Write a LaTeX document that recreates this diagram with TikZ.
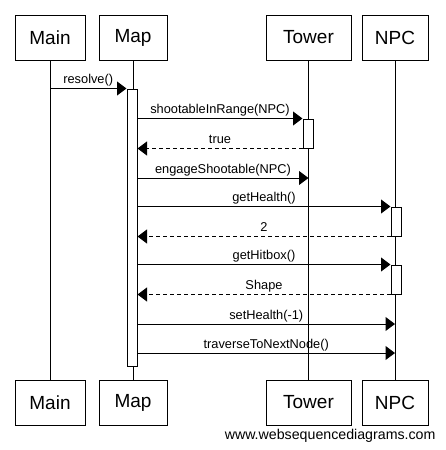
\documentclass[tikz,border=0pt]{standalone}
\usepackage{fontspec}
\setmainfont{Liberation Sans}
\usetikzlibrary{arrows.meta}
\begin{document}
\begin{tikzpicture}[x=1pt,y=-1pt,line width=1pt,
  actor/.style={draw,fill=white,minimum height=45pt,inner sep=0pt,font=\fontsize{19}{22}\selectfont},
  act/.style={draw,fill=white,minimum width=10pt,inner sep=0pt},
  life/.style={line width=1pt},
  msg/.style={-{Triangle[length=9.5pt,width=14pt]}},
  ret/.style={msg,dash pattern=on 4pt off 3pt},
  lbl/.style={anchor=base,yshift=5pt,inner sep=0pt,font=\fontsize{12.8}{15}\selectfont}]
\useasboundingbox (0,0) rectangle (446,450);
\fill[white] (0,0) rectangle (446,450);
% top actors
\node[actor,minimum width=70pt] (mainT) at (50,37.5) {Main};
\node[actor,minimum width=68pt] (mapT) at (133,37.5) {Map};
\node[actor,minimum width=85pt] (towT) at (308.5,37.5) {Tower};
\node[actor,minimum width=66pt] (npcT) at (395,37.5) {NPC};
% bottom actors
\node[actor,minimum width=70pt] (mainB) at (50,402.5) {Main};
\node[actor,minimum width=68pt] (mapB) at (133,402.5) {Map};
\node[actor,minimum width=85pt] (towB) at (308.5,402.5) {Tower};
\node[actor,minimum width=66pt] (npcB) at (395,402.5) {NPC};
% lifelines
\draw[life] (mainT.south) -- (mainB.north);
\draw[life] (mapT.south) -- (mapB.north);
\draw[life] (towT.south) -- (towB.north);
\draw[life] (npcT.south) -- (npcB.north);
% activations
\node[act,minimum height=277pt] (mapA) at (132,227.5) {};
\node[act,minimum height=29pt] (towA) at (308,133.5) {};
\node[act,minimum height=29pt] (npcA1) at (396,221.5) {};
\node[act,minimum height=29pt] (npcA2) at (396,279.5) {};
% messages
\draw[msg] (mainT.south |- mapA.north) -- (mapA.north west) node[lbl,midway] {resolve()};
\draw[msg] (mapA.east |- towA.north) -- (towA.north west) node[lbl,midway] {shootableInRange(NPC)};
\draw[ret] (towA.south west) -- (mapA.east |- towA.south) node[lbl,midway] {true};
\coordinate (eng) at (132,178);
\draw[msg] (mapA.east |- eng) -- (towT.south |- eng) node[lbl,midway] {engageShootable(NPC)};
\draw[msg] (mapA.east |- npcA1.north) -- (npcA1.north west) node[lbl,midway] {getHealth()};
\draw[ret] (npcA1.south west) -- (mapA.east |- npcA1.south) node[lbl,midway] {2};
\draw[msg] (mapA.east |- npcA2.north) -- (npcA2.north west) node[lbl,midway] {getHitbox()};
\draw[ret] (npcA2.south west) -- (mapA.east |- npcA2.south) node[lbl,midway] {Shape};
\coordinate (sh) at (132,324);
\draw[msg] (mapA.east |- sh) -- (npcT.south |- sh) node[lbl,midway] {setHealth(-1)};
\coordinate (tr) at (132,353);
\draw[msg] (mapA.east |- tr) -- (npcT.south |- tr) node[lbl,midway] {traverseToNextNode()};
% watermark
\node[anchor=base east,inner sep=0pt,font=\fontsize{14.2}{16}\selectfont] (wm) at (436,439) {www.websequencediagrams.com};
\end{tikzpicture}
\end{document}
